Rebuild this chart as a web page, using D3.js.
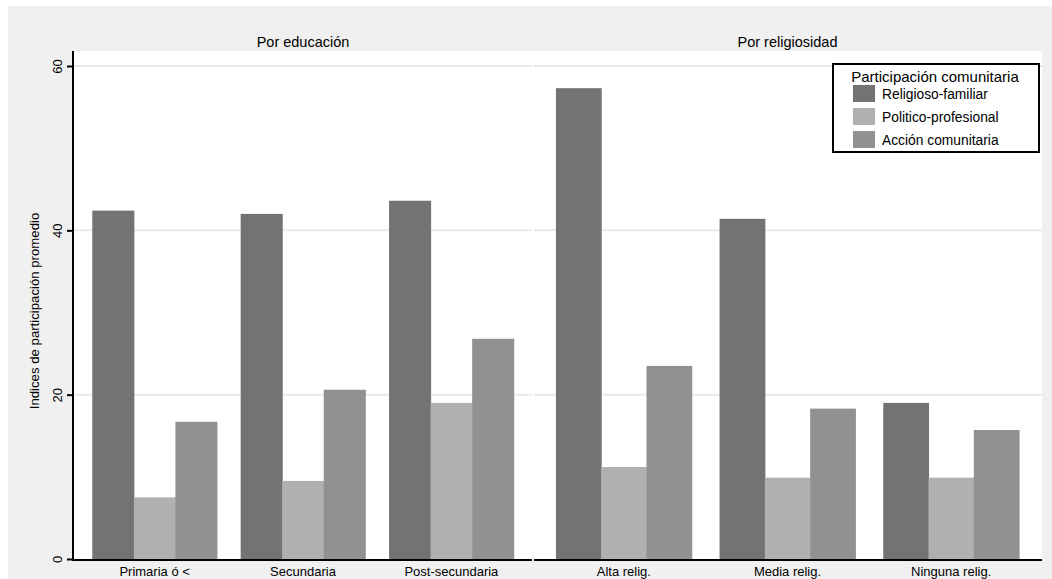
<!DOCTYPE html>
<html><head><meta charset="utf-8">
<script src="https://cdn.jsdelivr.net/npm/d3@7"></script>
<style>body{margin:0;background:#fff}svg{display:block}text{font-family:"Liberation Sans",Arial,Helvetica,sans-serif;fill:#000}</style>
</head><body><svg id="c" width="1052" height="579"></svg>
<script>
const panels = ["Por educación", "Por religiosidad"];
const eduCategories = ["Primaria ó <", "Secundaria", "Post-secundaria"];
const religCategories = ["Alta relig.", "Media relig.", "Ninguna relig."];
const seriesNames = ["Religioso-familiar", "Politico-profesional", "Acción comunitaria"];
const religiosoFamiliar = [42.4, 42.0, 43.6, 57.3, 41.4, 19.0];
const politicoProfesional = [7.5, 9.5, 19.0, 11.2, 9.9, 9.9];
const accionComunitaria = [16.7, 20.6, 26.8, 23.5, 18.3, 15.7];
const yTicks = [0, 20, 40, 60];
const colors = ["#737373", "#b0b0b0", "#919191"];

const svg = d3.select("#c");
svg.append("rect").attr("x",8).attr("y",6).attr("width",1044).attr("height",573).attr("fill","#f0f0f0");
const L = 73, R = 1042, T = 51, B = 559, MID = 533;
svg.append("rect").attr("x",L).attr("y",T).attr("width",R-L).attr("height",B-T).attr("fill","#fff");

const y = d3.scaleLinear().domain([0,60]).range([B,66]);
const allSeries = [religiosoFamiliar, politicoProfesional, accionComunitaria];
const panelDefs = [
  {title: panels[0], cats: eduCategories, range:[L,MID], off:0, pi:0.16, po:0.13},
  {title: panels[1], cats: religCategories, range:[MID,R], off:3, pi:0.17, po:0.14}
];

panelDefs.forEach((p,pi)=>{
  const x0 = p.range[0] + (pi?1:0), x1 = p.range[1] - (pi?0:1);
  svg.append("g").selectAll("line").data(yTicks.filter(t=>t>0)).join("line")
    .attr("x1",x0).attr("x2",x1).attr("y1",d=>y(d)).attr("y2",d=>y(d))
    .attr("stroke","#eaeaea").attr("stroke-width",2);
});

panelDefs.forEach((p,pi)=>{
  const x = d3.scaleBand().domain(p.cats).range(p.range).paddingInner(p.pi).paddingOuter(p.po);
  const xi = d3.scaleBand().domain(seriesNames).range([0,x.bandwidth()]);
  const data = [];
  p.cats.forEach((c,ci)=>seriesNames.forEach((s,si)=>data.push({c, s, si, v: allSeries[si][p.off+ci]})));
  svg.append("g").selectAll("rect").data(data).join("rect")
    .attr("x",d=>x(d.c)+xi(d.s)).attr("width",xi.bandwidth()+0.5)
    .attr("y",d=>y(d.v)).attr("height",d=>B-y(d.v))
    .attr("fill",d=>colors[d.si]);
  svg.append("line").attr("x1",p.range[0]+(pi?1:0)).attr("x2",p.range[1]-(pi?0:1))
    .attr("y1",B+1).attr("y2",B+1).attr("stroke","#000").attr("stroke-width",2);
  svg.append("g").selectAll("text").data(p.cats).join("text")
    .attr("x",d=>x(d)+x.bandwidth()/2).attr("y",576).attr("text-anchor","middle")
    .attr("font-size",13).text(d=>d);
  svg.append("text").attr("x",(p.range[0]+p.range[1])/2).attr("y",47)
    .attr("text-anchor","middle").attr("font-size",14.5).text(p.title);
});

const ya = svg.append("g").attr("transform",`translate(${L},0)`)
  .call(d3.axisLeft(y).tickValues(yTicks).tickSize(6).tickPadding(8));
ya.select(".domain").remove();
ya.selectAll(".tick line").attr("stroke","#000").attr("stroke-width",2);
ya.selectAll(".tick text").attr("font-size",13).attr("font-family","Liberation Sans, Arial, sans-serif")
  .attr("text-anchor","middle").attr("x",0).attr("y",0).attr("dy",0)
  .attr("transform","translate(-14,0) rotate(-90)").attr("dominant-baseline","middle");
svg.append("line").attr("x1",L).attr("x2",L).attr("y1",T).attr("y2",B+2)
  .attr("stroke","#000").attr("stroke-width",2);
svg.append("text").attr("transform",`translate(39,${(T+B)/2+6}) rotate(-90)`)
  .attr("text-anchor","middle").attr("font-size",13.2).text("Indices de participación promedio");

const lg = svg.append("g");
lg.append("rect").attr("x",833).attr("y",64).attr("width",206).attr("height",88)
  .attr("fill","#fff").attr("stroke","#000").attr("stroke-width",2);
lg.append("text").attr("x",935).attr("y",82).attr("text-anchor","middle").attr("font-size",15)
  .text("Participación comunitaria");
const rows = lg.selectAll("g.r").data(seriesNames).join("g").attr("class","r")
  .attr("transform",(d,i)=>`translate(853,${85+i*23})`);
rows.append("rect").attr("width",22).attr("height",17).attr("fill",(d,i)=>colors[i]);
rows.append("text").attr("x",29).attr("y",13.5).attr("font-size",13.8).text(d=>d);
</script></body></html>
